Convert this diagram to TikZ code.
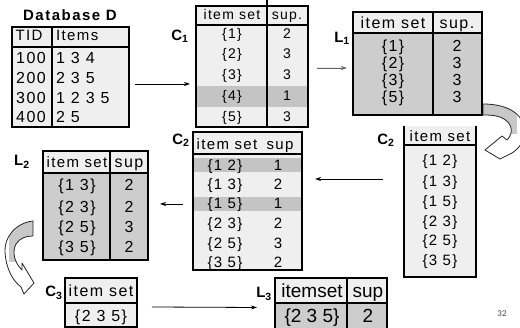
\documentclass[tikz,border=0pt]{standalone}
\usepackage{fontspec}
\setmainfont{Liberation Sans}
\newfontfamily\cellfont[LetterSpace=9]{Liberation Sans}
\newfontfamily\tightfont{Liberation Sans}
\newfontfamily\pagefont{Carlito}
\usetikzlibrary{arrows.meta,calc}
\definecolor{cellbg}{HTML}{EFEFEF}
\definecolor{cellgray}{HTML}{CDCDCD}
\definecolor{rowmark}{HTML}{C4C4C4}
\definecolor{bandgray}{HTML}{C8C8C8}
\tikzset{
  frame/.style={draw, line width=2.6pt, rectangle, inner sep=0pt, outer sep=0pt},
  openframe/.style={rectangle, inner sep=0pt, outer sep=0pt},
  rule/.style={line width=2.6pt},
  cell/.style={inner sep=0pt, anchor=base, font=\cellfont\fontsize{#1}{#1}\selectfont},
  cell/.default=15,
  cellw/.style={cell=#1, anchor=base west},
  big/.style={inner sep=0pt, anchor=base, font=\tightfont\fontsize{19}{19}\selectfont},
  setlabel/.style={inner sep=0pt, font=\bfseries\fontsize{15}{15}\selectfont},
  arr/.style={-{Stealth[length=6pt,width=4pt]}, line width=0.8pt},
  blockarrow/.style={draw=black!85, line width=0.8pt, line join=round}
}
\begin{document}
\begin{tikzpicture}[x=1pt,y=-1pt]
\useasboundingbox (0,0) rectangle (520,328);
\fill[white] (0,0) rectangle (520,328);

% ---------- Database D ----------
\node[inner sep=0pt, font=\bfseries\addfontfeatures{LetterSpace=10}\fontsize{15}{15}\selectfont] (title) at (70,15) {Database D};
\fill[cellbg] (12,27) rectangle (129,127);
\draw[rule] (12,47) -- (129,47);
\draw[rule] (52,27) -- (52,127);
\node[frame, minimum width=117pt, minimum height=100pt] (db) at (70.5,77) {};
\node[cell] at (29,40.5) {TID};
\node[cellw=15] at (56,40.5) {Items};
\foreach \id/\its/\y in {100/1 3 4/64, 200/2 3 5/84, 300/1 2 3 5/104, 400/2 5/123}{
  \node[cell=16] at (31,\y) {\id};
  \node[cellw=16] at (56,\y) {\its};
}

% ---------- C1 ----------
\fill[cellbg] (196,6) rectangle (308,127);
\fill[rowmark] (196,86) rectangle (308,107);
\draw[rule] (196,25) -- (308,25);
\draw[rule] (267,0) -- (267,127);
\node[frame, minimum width=112pt, minimum height=121pt] (c1) at (252,66.5) {};
\node[setlabel] (lc1) at (180,36) {C\textsubscript{1}};
\node[cell=14] at (232,20) {item set};
\node[cell=14] at (287,20) {sup.};
\foreach \s/\n/\y in {1/2/39, 2/3/59, 3/3/80, 4/1/101, 5/3/122}{
  \node[cell=14] at (232,\y) {\{\s\}};
  \node[cell=14] at (287,\y) {\n};
}

% ---------- L1 ----------
\fill[cellbg] (353,12) rectangle (482,33);
\fill[cellgray] (353,33) rectangle (482,115);
\draw[rule] (353,33) -- (482,33);
\draw[rule] (433,12) -- (433,115);
\node[frame, minimum width=129pt, minimum height=103pt] (l1) at (417.5,63.5) {};
\node[setlabel] (ll1) at (342,38) {L\textsubscript{1}};
\node[cell=16] at (393,28.7) {item set};
\node[cell=16] at (457,28.7) {sup.};
\foreach \s/\n/\y in {1/2/51.7, 2/3/68.7, 3/3/85.7, 5/3/102.7}{
  \node[cell=16] at (393,\y) {\{\s\}};
  \node[cell=16] at (457,\y) {\n};
}

% ---------- C2 (candidates), open at the top ----------
\fill[cellbg] (404,126) rectangle (476,277);
\draw[rule] (404,145) -- (476,145);
\node[openframe, minimum width=72pt, minimum height=151pt] (c2r) at (440,201.5) {};
\draw[rule] (c2r.north west) -- (c2r.south west) -- (c2r.south east) -- (c2r.north east);
\node[setlabel] (lc2r) at (386,140) {C\textsubscript{2}};
\node[cell] at (440,141.4) {item set};
\foreach \s/\y in {1 2/165.4, 1 3/186.4, 1 5/206.4, 2 3/226.4, 2 5/245.4, 3 5/265.4}{
  \node[cell] at (440,\y) {\{\s\}};
}

% ---------- C2 (counted) ----------
\fill[cellbg] (193,132) rectangle (302,270);
\fill[rowmark] (193,158) rectangle (302,172);
\fill[rowmark] (193,197) rectangle (302,211);
\draw[rule] (193,154) -- (302,154);
\node[frame, minimum width=109pt, minimum height=138pt] (c2m) at (247.5,201) {};
\node[setlabel] (lc2m) at (181,140) {C\textsubscript{2}};
\node[cell] at (227,149.4) {item set};
\node[cell] at (280,149.4) {sup};
\foreach \s/\n/\y in {1 2/1/170.4, 1 3/2/189.4, 1 5/1/208.4, 2 3/2/228.4, 2 5/3/248.4, 3 5/2/267.4}{
  \node[cell] at (225,\y) {\{\s\}};
  \node[cell] at (278,\y) {\n};
}

% ---------- L2 ----------
\fill[cellbg] (43,151) rectangle (148,173);
\fill[cellgray] (43,173) rectangle (148,260);
\draw[rule] (43,173) -- (148,173);
\draw[rule] (110,151) -- (110,260);
\node[frame, minimum width=105pt, minimum height=109pt] (l2) at (95.5,205.5) {};
\node[setlabel] (ll2) at (22,162) {L\textsubscript{2}};
\node[cell] at (77,167.4) {item set};
\node[cell=16] at (129,167.7) {sup};
\foreach \s/\n/\y in {1 3/2/190.7, 2 3/2/212.7, 2 5/3/232.7, 3 5/2/252.7}{
  \node[cell=16] at (77,\y) {\{\s\}};
  \node[cell=16] at (129,\y) {\n};
}

% ---------- C3 ----------
\fill[cellbg] (65,278) rectangle (137,327);
\draw[rule] (65,303) -- (137,303);
\node[frame, minimum width=72pt, minimum height=49pt] (c3) at (101,302.5) {};
\node[setlabel] (lc3) at (54,293) {C\textsubscript{3}};
\node[cell=16] at (101,296.7) {item set};
\node[cell=16] at (101,321.7) {\{2 3 5\}};

% ---------- L3 ----------
\fill[cellbg] (275,278) rectangle (387,303);
\fill[cellgray] (275,303) rectangle (387,329);
\draw[rule] (275,303) -- (387,303);
\draw[rule] (347,278) -- (347,329);
\node[frame, minimum width=112pt, minimum height=51pt] (l3) at (331,303.5) {};
\node[setlabel] (ll3) at (264,294) {L\textsubscript{3}};
\node[big] at (312,297.8) {itemset};
\node[big] at (368,297.8) {sup};
\node[big] at (312,322.8) {\{2 3 5\}};
\node[big] at (368,322.8) {2};

% ---------- straight connectors ----------
\draw[arr] ($(db.east)+(6,7)$) -- ($(c1.west)+(-6,17.5)$);
\draw[arr, draw=black!60, fill=black!60] ($(c1.east)+(9,1.5)$) -- ($(l1.west)+(-6,4.5)$);
\draw[arr] ($(c2r.west)+(-21,-22.5)$) -- ($(c2m.east)+(13,-22)$);
\draw[arr] ($(c2m.west)+(-10,3)$) -- ($(l2.east)+(12,-1.5)$);
\draw[arr] ($(c3.east)+(15,4.5)$) -- ($(l3.west)+(-18,4)$);

% ---------- curved block arrow: L1 -> C2 ----------
\def\bendA{(483,104) .. controls (505,104) and (522,112) .. (524,128)
  .. controls (525,140) and (520,148) .. (512,153) -- (500,159) -- (485,150)
  -- (502,136) -- (507,140) .. controls (514,133) and (513,122) .. (500,117)
  .. controls (494,115) and (488,115) .. (483,115) -- cycle}
\fill[white] \bendA;
\begin{scope}
  \clip \bendA;
  \fill[bandgray] (470,95) rectangle (517,134);
\end{scope}
\draw[blockarrow] \bendA;

% ---------- curved block arrow: L2 -> C3 ----------
\def\bendB{(33,221) .. controls (15,223) and (4,238) .. (5,252)
  .. controls (6,268) and (12,280) .. (21,287) -- (24,294) -- (34,283)
  -- (22,263) -- (22,270) .. controls (14,262) and (12,252) .. (16,244)
  .. controls (20,238) and (26,236) .. (33,236) -- cycle}
\fill[white] \bendB;
\begin{scope}
  \clip \bendB;
  \fill[bandgray] (9,215) rectangle (40,262);
\end{scope}
\draw[blockarrow] \bendB;

% ---------- page number ----------
\node[inner sep=0pt, font=\pagefont\fontsize{9}{9}\selectfont, text=black!70] (pg) at (502,314) {32};
\end{tikzpicture}
\end{document}
